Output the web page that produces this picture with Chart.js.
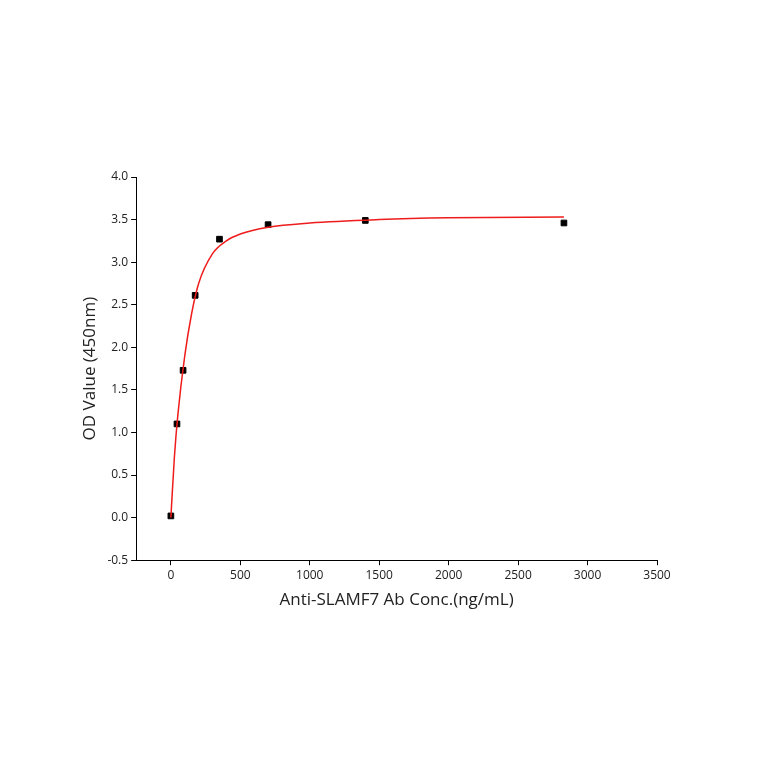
<!DOCTYPE html>
<html>
<head>
<meta charset="utf-8">
<script src="https://cdn.jsdelivr.net/npm/chart.js@4/dist/chart.umd.min.js"></script>
<style>
  body { margin: 0; background: #fff; }
  canvas { display: block; }
</style>
</head>
<body>
<canvas id="chart" width="764" height="764"></canvas>
<script>
// measured points
const concX = [0, 44, 88, 175, 350, 700, 1400, 2830];
const odY = [0.02, 1.10, 1.73, 2.61, 3.27, 3.44, 3.49, 3.46];

// fitted curve
const fitX = [0, 25, 50, 100, 150, 200, 300, 400, 500, 700, 1000, 1500, 2000, 2830];
const fitY = [0.0, 0.70, 1.20, 1.90, 2.40, 2.75, 3.10, 3.25, 3.33, 3.41, 3.46, 3.50, 3.52, 3.53];

const xTicks = [0, 500, 1000, 1500, 2000, 2500, 3000, 3500];
const yTicks = [-0.5, 0, 0.5, 1, 1.5, 2, 2.5, 3, 3.5, 4];

const font = { family: '"Open Sans", "Liberation Sans", sans-serif' };

new Chart(document.getElementById('chart').getContext('2d'), {
  type: 'scatter',
  data: {
    datasets: [
      {
        label: 'fit',
        data: fitX.map((x, i) => ({ x: x, y: fitY[i] })),
        showLine: true,
        borderColor: '#ee1c1c',
        borderWidth: 1.5,
        pointRadius: 0,
        cubicInterpolationMode: 'monotone'
      },
      {
        label: 'data',
        data: concX.map((x, i) => ({ x: x, y: odY[i] })),
        pointStyle: 'rect',
        pointRadius: 4,
        backgroundColor: '#000',
        borderColor: '#000'
      }
    ]
  },
  options: {
    responsive: false,
    animation: false,
    layout: { padding: { left: 76, top: 177, right: 107, bottom: 150 } },
    plugins: { legend: { display: false }, tooltip: { enabled: false } },
    scales: {
      x: {
        type: 'linear',
        min: -250,
        max: 3500,
        afterBuildTicks: s => { s.ticks = xTicks.map(v => ({ value: v })); },
        grid: { drawOnChartArea: false, color: '#000', tickLength: 5 },
        border: { color: '#000', width: 1 },
        ticks: { color: '#222', font: { ...font, size: 12 }, maxRotation: 0, callback: v => String(v) },
        title: { display: true, text: 'Anti-SLAMF7 Ab Conc.(ng/mL)', color: '#222', font: { ...font, size: 17 } }
      },
      y: {
        min: -0.5,
        max: 4,
        afterBuildTicks: s => { s.ticks = yTicks.map(v => ({ value: v })); },
        grid: { drawOnChartArea: false, color: '#000', tickLength: 5 },
        border: { color: '#000', width: 1 },
        ticks: { color: '#222', font: { ...font, size: 12 }, callback: v => v.toFixed(1) },
        title: { display: true, text: 'OD Value (450nm)', color: '#222', font: { ...font, size: 17 } }
      }
    }
  }
});
</script>
</body>
</html>
